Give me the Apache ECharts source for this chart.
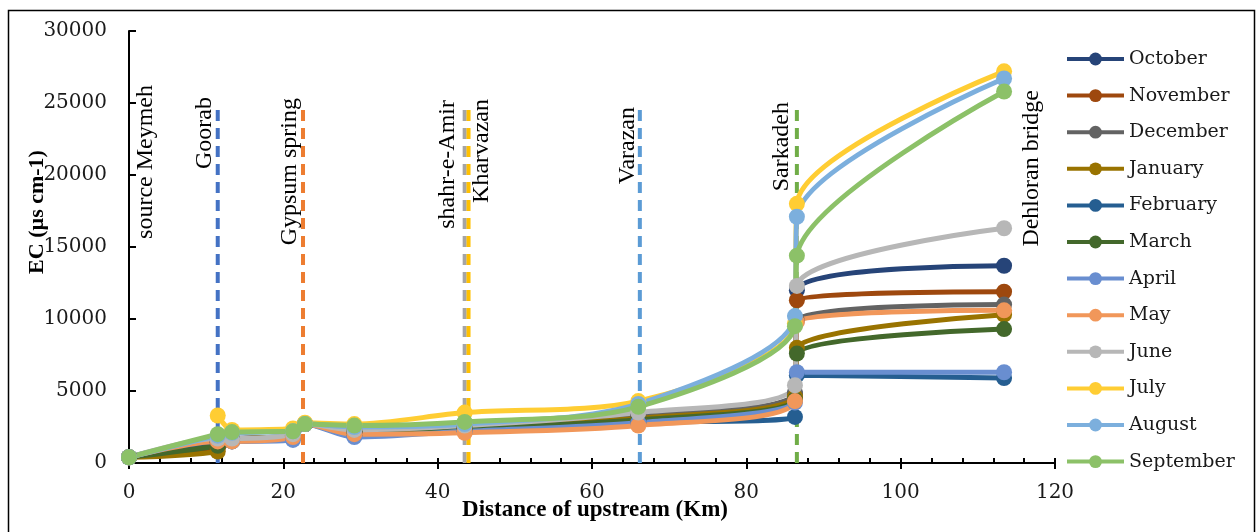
<!DOCTYPE html>
<html>
<head>
<meta charset="utf-8">
<script src="https://cdn.jsdelivr.net/npm/echarts@6/dist/echarts.min.js"></script>
<style>html,body{margin:0;padding:0;background:#fff;}#c{width:1259px;height:532px;}</style>
</head>
<body>
<div id="c"></div>
<script>
// ---- data ----
const stationKm = [0, 11.5, 13.35, 21.25, 22.8, 29.2, 43.5, 66.0, 86.3, 86.55, 113.4];
const monthNames = ['October','November','December','January','February','March','April','May','June','July','August','September'];
const october   = [400, 1500, 1700, 1900, 2700, 2100, 2400, 3200, 4800, 12000, 13700];
const november  = [400, 1000, 1600, 1800, 2700, 2100, 2400, 3000, 4500, 11300, 11900];
const december  = [400, 1400, 1600, 1900, 2700, 2200, 2500, 3300, 4900, 9900, 11000];
const january   = [400,  800, 1600, 1900, 2700, 2300, 2500, 3100, 4600, 8000, 10300];
const february  = [400, 1400, 1500, 1800, 2700, 1900, 2200, 2800, 3200, 6100, 5900];
const march     = [400, 1200, 1600, 1900, 2700, 2200, 2400, 3000, 4400, 7600, 9300];
const april     = [400, 1600, 1500, 1600, 2700, 1800, 2200, 2800, 4200, 6300, 6300];
const may       = [400, 1500, 1500, 1800, 2700, 2000, 2100, 2600, 4300, 9800, 10600];
const june      = [400, 1700, 1700, 2000, 2700, 2300, 2600, 3500, 5400, 12300, 16300];
const july      = [null, 3300, 2300, 2400, 2800, 2700, 3500, 4300, 9700, 18000, 27200];
const august    = [400, 1900, 2100, 2200, 2700, 2500, 2700, 4100, 10200, 17100, 26700];
const september = [400, 2000, 2150, 2200, 2700, 2600, 2850, 3900, 9500, 14400, 25800];
const siteLineKm = [11.5, 22.55, 43.5, 44.0, 66.2, 86.55];
const siteLineTop = 24800;
const xTicks = [0, 20, 40, 60, 80, 100, 120];
const yTicks = [0, 5000, 10000, 15000, 20000, 25000, 30000];

// ---- styles ----
const monthColors = ['#264478','#9E480E','#636363','#997300','#255E91','#43682B','#698ED0','#F1975A','#B7B7B7','#FFCD33','#7CAFDD','#8CC168'];
const siteLineColors = ['#4472C4','#ED7D31','#A5A5A5','#FFC000','#5B9BD5','#70AD47'];
const monthValues = [october, november, december, january, february, march, april, may, june, july, august, september];

const siteSeries = siteLineKm.map((km, i) => ({
  type: 'line', xAxisIndex: 0, yAxisIndex: 0, silent: true, z: 1,
  data: [[km, 0], [km, siteLineTop]],
  symbol: 'none',
  lineStyle: { color: siteLineColors[i], width: 4, type: [11, 7] }
}));

const monthSeries = monthNames.map((name, i) => ({
  name: name, type: 'line', z: 3,
  data: stationKm.map((km, j) => [km, monthValues[i][j]]),
  smooth: 0.3,
  symbol: 'circle', symbolSize: 16,
  itemStyle: { color: monthColors[i] },
  lineStyle: { color: monthColors[i], width: 5 }
}));

const labelFont = '24px "Liberation Serif"';
function siteLabel(text, x, yTop) {
  return { type: 'text', x: x, y: yTop, rotation: Math.PI / 2, z: 10,
    style: { text: text, font: labelFont, fill: '#000', textAlign: 'right', textVerticalAlign: 'middle' } };
}

const chart = echarts.init(document.getElementById('c'), null, { renderer: 'canvas' });
chart.setOption({
  animation: false,
  backgroundColor: '#fff',
  grid: { left: 129, top: 31, width: 926, height: 432, containLabel: false },
  xAxis: [{
    type: 'value', min: 0, max: 120, interval: 20,
    axisLine: { show: true, lineStyle: { color: '#000', width: 2 } },
    axisTick: { show: true, inside: true, length: 5, lineStyle: { color: '#000', width: 2 } },
    minorTick: { show: true, splitNumber: 5, length: 5, lineStyle: { color: '#000', width: 2 } },
    splitLine: { show: false },
    axisLabel: { margin: 20, color: '#1a1a1a', fontFamily: 'DejaVu Serif', fontSize: 20,
      formatter: v => xTicks.indexOf(v) >= 0 ? String(v) : '' }
  }, {
    type: 'value', min: 0, max: 120, interval: 20, position: 'bottom',
    axisLine: { show: false },
    axisTick: { show: true, inside: false, length: 6, lineStyle: { color: '#000', width: 2 } },
    axisLabel: { show: false }, splitLine: { show: false }
  }],
  yAxis: {
    type: 'value', min: 0, max: 30000, interval: 5000,
    axisLine: { show: true, lineStyle: { color: '#000', width: 2 } },
    axisTick: { show: true, inside: true, length: 7, lineStyle: { color: '#000', width: 2 } },
    splitLine: { show: false },
    axisLabel: { margin: 22, color: '#1a1a1a', fontFamily: 'DejaVu Serif', fontSize: 20,
      formatter: v => yTicks.indexOf(v) >= 0 ? String(v) : '' }
  },
  legend: {
    data: monthNames, orient: 'vertical', left: 1065, top: 49, padding: 0,
    itemWidth: 57, itemHeight: 16, itemGap: 16.6,
    lineStyle: { width: 4 },
    textStyle: { fontFamily: 'DejaVu Serif', fontSize: 19, color: '#1a1a1a', lineHeight: 20 }
  },
  graphic: [
    { type: 'rect', shape: { x: 8.5, y: 10.5, width: 1246, height: 530 }, style: { fill: 'none', stroke: '#000', lineWidth: 1.5 }, z: 0, silent: true },
    { type: 'text', x: 37, y: 212, rotation: Math.PI / 2, z: 10,
      style: { text: 'EC (µs cm-1)', font: 'bold 22px "Liberation Serif"', fill: '#000', textAlign: 'center', textVerticalAlign: 'middle' } },
    { type: 'text', x: 595, y: 510, z: 10,
      style: { text: 'Distance of upstream (Km)', font: 'bold 23px "Liberation Serif"', fill: '#000', textAlign: 'center', textVerticalAlign: 'middle' } },
    siteLabel('source Meymeh', 146, 85),
    siteLabel('Goorab', 205, 97),
    siteLabel('Gypsum spring', 290, 98),
    siteLabel('shahr-e-Amir', 448, 100),
    siteLabel('Kharvazan', 482, 99),
    siteLabel('Varazan', 628, 107),
    siteLabel('Sarkadeh', 782, 102),
    siteLabel('Dehloran bridge', 1032, 90)
  ],
  series: siteSeries.concat(monthSeries)
});
</script>
</body>
</html>
